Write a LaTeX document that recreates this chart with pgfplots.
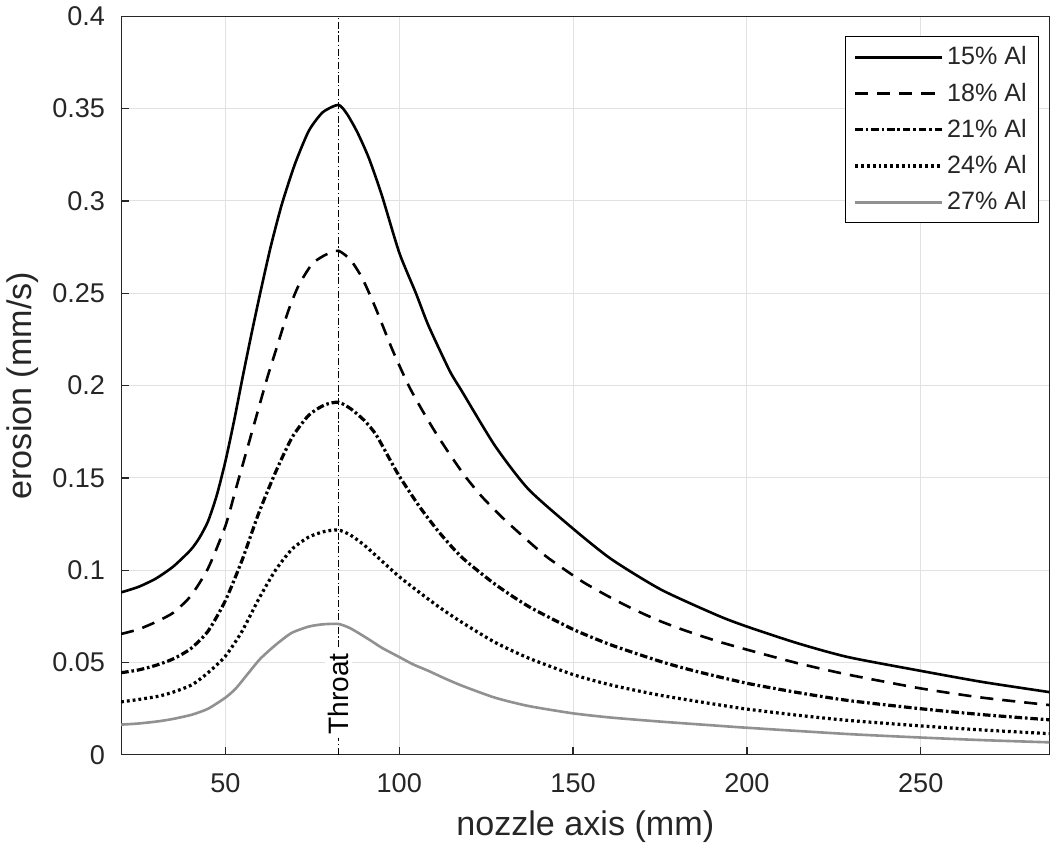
\documentclass[border=0pt]{standalone}
\usepackage{fontspec}
\setmainfont{Liberation Sans}
\usepackage{pgfplots}
\pgfplotsset{compat=1.18}
\definecolor{txtgray}{RGB}{38,38,38}
\definecolor{gridgray}{RGB}{225,225,225}
\definecolor{curvegray}{RGB}{145,145,145}
\begin{document}
\begin{tikzpicture}
\begin{axis}[
  width=462.5pt, height=368pt, scale only axis,
  xmin=20, xmax=287, ymin=0, ymax=0.4,
  xtick={50,100,150,200,250},
  ytick={0,0.05,0.1,0.15,0.2,0.25,0.3,0.35,0.4},
  yticklabels={0,0.05,0.1,0.15,0.2,0.25,0.3,0.35,0.4},
  /pgf/number format/assume math mode=true,
  grid=major,
  major grid style={draw=gridgray, line width=0.5pt},
  tick align=inside, major tick length=4pt,
  xtick pos=left, ytick pos=left,
  axis line style={draw=txtgray, line width=0.6pt},
  tick style={draw=txtgray, line width=0.6pt},
  ticklabel style={font=\fontsize{13.5}{15}\selectfont, text=txtgray},
  xticklabel style={yshift=-6pt},
  yticklabel style={xshift=-4.5pt},
  xlabel={nozzle axis (mm)}, ylabel={erosion (mm/s)},
  label style={font=\fontsize{17}{19}\selectfont, text=txtgray},
  xlabel style={yshift=-2pt},
  legend cell align=left,
  legend image code/.code={\draw[#1] (0pt,0pt) -- (43pt,0pt);},
  legend style={at={(0.989,0.973)}, anchor=north east, draw=black,
    line width=0.5pt, fill=white, font=\fontsize{12.5}{14}\selectfont,
    text=txtgray, row sep=3.5pt, inner xsep=4pt, inner ysep=3pt},
]
% throat marker
\addplot[black, line width=0.5pt, dash pattern=on 3.5pt off 1.3pt on 0.6pt off 1.3pt, forget plot]
  coordinates {(82.5,0) (82.5,0.4)};
\node[rotate=90, fill=white, inner sep=1.5pt, font=\fontsize{14}{16}\selectfont, text=black]
  at (axis cs:82.5,0.033) {Throat};

% 15% Al
\addplot[black, line width=1.3pt, smooth, tension=0.4] coordinates {
  (20,0.088) (25,0.091) (30,0.0955) (35,0.102) (40,0.111) (42.5,0.1175)
  (45,0.1265) (47.5,0.1405) (50,0.159) (52.5,0.181) (55,0.205) (57.5,0.228)
  (60,0.250) (63,0.275) (66.2,0.298) (70,0.320) (74,0.338) (78,0.348)
  (82.5,0.352) (85,0.347) (88,0.337) (91.3,0.323) (95,0.303) (100,0.272)
  (104.8,0.250) (108.4,0.2325) (114.5,0.208) (118,0.197) (127.5,0.1675)
  (137.1,0.144) (150,0.1225) (161,0.106) (175.3,0.0895) (191.6,0.0755)
  (200,0.0695) (214.5,0.0605) (229,0.053) (250,0.0455) (267.7,0.0395)
  (287,0.034)
};
\addlegendentry{15\% Al}

% 18% Al
\addplot[black, line width=1.3pt, smooth, tension=0.4, dash pattern=on 6.5pt off 4.5pt] coordinates {
  (20,0.0655) (25,0.068) (30,0.072) (35,0.077) (40,0.086) (45,0.101)
  (50,0.124) (53,0.144) (56,0.164) (59,0.184) (62,0.204) (65,0.222)
  (68,0.240) (71,0.254) (75,0.266) (79,0.271) (82.5,0.273) (86,0.268)
  (89.4,0.258) (93.2,0.242) (98,0.2195) (102.7,0.200) (106.5,0.187)
  (110.3,0.175) (114.1,0.164) (118.9,0.151) (123.7,0.140) (129.4,0.129)
  (135.2,0.119) (141.9,0.108) (148.6,0.099) (153.4,0.093) (160,0.086)
  (166.7,0.0795) (174.3,0.073) (182,0.0675) (191.6,0.0615) (200,0.057)
  (214.5,0.0497) (229,0.0435) (250,0.036) (267.7,0.031) (287,0.027)
};
\addlegendentry{18\% Al}

% 21% Al
\addplot[black, line width=1.6pt, smooth, tension=0.4, dash pattern=on 3.8pt off 1.4pt on 1.3pt off 1.4pt] coordinates {
  (20,0.0445) (25,0.046) (30,0.0485) (35,0.052) (40,0.0575) (45,0.067)
  (50,0.0836) (54.8,0.1055) (59.6,0.131) (64.4,0.153) (69.2,0.172)
  (74,0.184) (78.5,0.1895) (82.5,0.191) (86,0.1875) (90,0.181)
  (93.3,0.1735) (97,0.161) (100,0.151) (105.8,0.1345) (111.5,0.1205)
  (118,0.107) (127.5,0.0925) (137.1,0.0805) (150,0.068) (161,0.0595)
  (175.3,0.0505) (185.5,0.0452) (200,0.0388) (214.5,0.0338) (229,0.0295)
  (250,0.025) (267.7,0.0218) (287,0.019)
};
\addlegendentry{21\% Al}

% 24% Al
\addplot[black, line width=1.6pt, smooth, tension=0.4, dash pattern=on 1.4pt off 1.5pt] coordinates {
  (20,0.0287) (25,0.030) (30.8,0.0318) (35,0.034) (40.4,0.038) (45,0.0445)
  (50,0.0535) (54.8,0.067) (59.6,0.0845) (64.4,0.100) (69.2,0.1115)
  (74,0.118) (78.5,0.121) (82.5,0.1218) (86,0.119) (90,0.1135) (95,0.105)
  (100,0.0965) (105.8,0.088) (111.5,0.080) (118,0.0718) (127.5,0.061)
  (137.1,0.0525) (150,0.0435) (161,0.0378) (175.3,0.0322) (191.6,0.0272)
  (200,0.0248) (214.5,0.0215) (229,0.0187) (250,0.0157) (267.7,0.0135)
  (287,0.0115)
};
\addlegendentry{24\% Al}

% 27% Al
\addplot[curvegray, line width=1.3pt, smooth, tension=0.4] coordinates {
  (20,0.0164) (25,0.017) (30.8,0.0182) (35,0.0195) (40.4,0.0218) (45,0.025)
  (50,0.031) (53,0.036) (56.7,0.0445) (60,0.052) (64.4,0.0595) (69,0.066)
  (74,0.0695) (78,0.0707) (82.5,0.0709) (86,0.0685) (91.3,0.0625) (95,0.058)
  (100,0.053) (104,0.049) (108.4,0.0455) (113,0.0415) (118,0.0375)
  (127.5,0.031) (137.1,0.0265) (150,0.0225) (161,0.0202) (175.3,0.018)
  (191.6,0.0158) (200,0.0147) (229,0.0113) (250,0.0094) (267.7,0.008)
  (287,0.0068)
};
\addlegendentry{27\% Al}
\end{axis}
\end{tikzpicture}
\end{document}
